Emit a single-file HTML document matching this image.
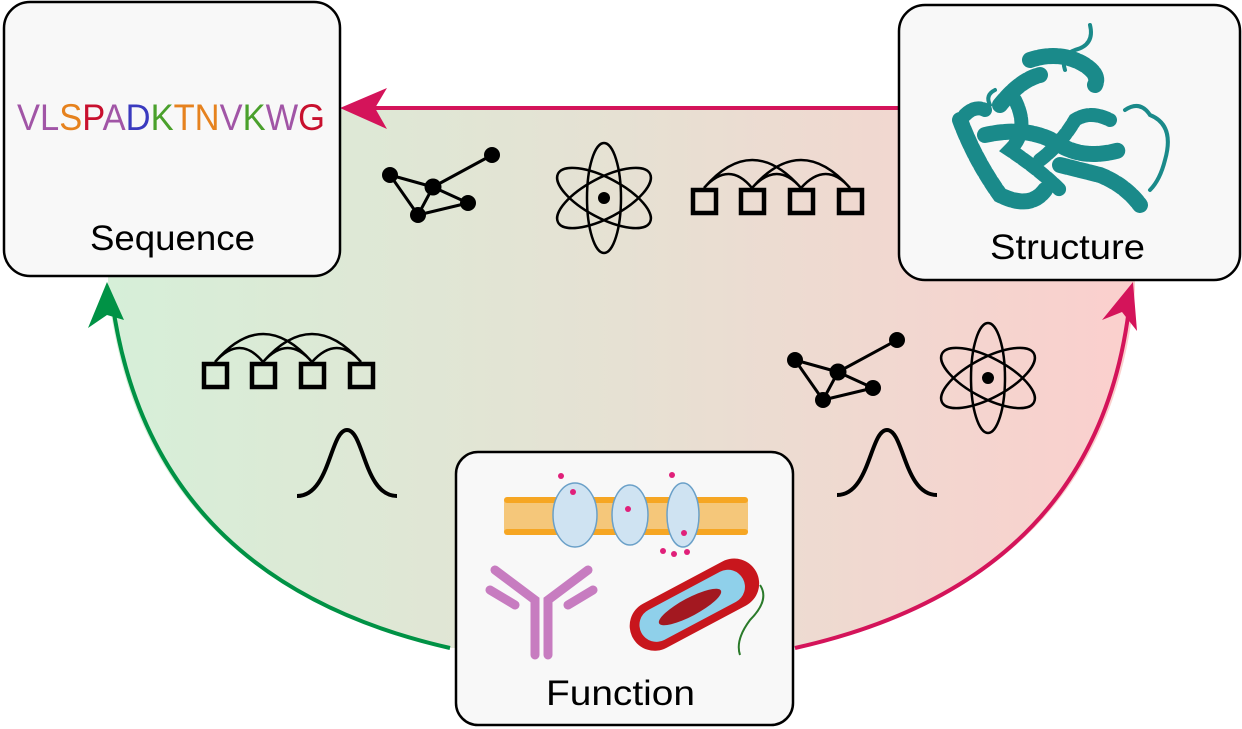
<!DOCTYPE html>
<html><head><meta charset="utf-8"><style>
html,body{margin:0;padding:0;background:#fff;}
svg{display:block;}
text{font-family:"Liberation Sans",sans-serif;}
</style></head><body>
<svg width="1242" height="729" viewBox="0 0 1242 729" xmlns="http://www.w3.org/2000/svg">
<defs>
<linearGradient id="g" x1="0" x2="1" y1="0" y2="0">
<stop offset="0" stop-color="#d6efd8"/>
<stop offset="0.5" stop-color="#e6e1d3"/>
<stop offset="1" stop-color="#fbcfcd"/>
</linearGradient>
<g id="boxes" fill="none" stroke="#000">
<rect x="2" y="2" width="23" height="23" stroke-width="4.5"/>
<rect x="50" y="2" width="23" height="23" stroke-width="4.5"/>
<rect x="99" y="2" width="23" height="23" stroke-width="4.5"/>
<rect x="148" y="2" width="23" height="23" stroke-width="4.5"/>
<path d="M13,0 Q38,-28 61,0 M61,0 Q86,-28 110,0 M110,0 Q135,-28 159,0 M13,0 Q61,-56 110,0 M61,0 Q110,-56 159,0" stroke-width="2.5"/>
</g>
<g id="graph">
<g stroke="#000" stroke-width="3">
<line x1="0" y1="0" x2="43" y2="12"/><line x1="43" y1="12" x2="102" y2="-20"/>
<line x1="43" y1="12" x2="78" y2="28"/><line x1="78" y1="28" x2="28" y2="40"/>
<line x1="28" y1="40" x2="0" y2="0"/><line x1="43" y1="12" x2="28" y2="40"/>
</g>
<g fill="#000"><circle cx="0" cy="0" r="8"/><circle cx="43" cy="12" r="8.5"/><circle cx="102" cy="-20" r="8"/><circle cx="78" cy="28" r="8"/><circle cx="28" cy="40" r="8"/></g>
</g>
<g id="atom" fill="none" stroke="#000" stroke-width="2.5">
<ellipse cx="0" cy="0" rx="17" ry="55"/>
<ellipse cx="0" cy="0" rx="52" ry="20" transform="rotate(28)"/>
<ellipse cx="0" cy="0" rx="52" ry="20" transform="rotate(-28)"/>
<circle cx="0" cy="0" r="6" fill="#000" stroke="none"/>
</g>
</defs>

<path d="M108,108 L1135,108 L1135,290 Q1110,580 795,648 L450,648 Q140,580 108,290 Z" fill="url(#g)"/>

<path d="M900,108 L360,108" stroke="#d4145a" stroke-width="4" fill="none"/>
<path d="M340,108 L387,88 L375,108 L387,129 Z" fill="#d4145a"/>
<path d="M450,648 Q150,580 112,300" stroke="#009245" stroke-width="4" fill="none"/>
<path d="M107,282 L88,328 L107,315 L124,320 Z" fill="#009245"/>
<path d="M795,648 Q1100,580 1130,300" stroke="#d4145a" stroke-width="4" fill="none"/>
<path d="M1133,282 L1102,320 L1122,312 L1137,331 Z" fill="#d4145a"/>

<use href="#graph" x="390" y="175"/>
<use href="#graph" x="795" y="360"/>
<use href="#atom" x="604" y="198"/>
<use href="#atom" x="988" y="378"/>
<use href="#boxes" x="691" y="188"/>
<use href="#boxes" x="202" y="362"/>
<path d="M297,496 C330,496 330,430 347,430 C364,430 364,496 397,496" fill="none" stroke="#000" stroke-width="4"/>
<path d="M837,495 C870,495 870,430 887,430 C904,430 904,495 937,495" fill="none" stroke="#000" stroke-width="4"/>

<rect x="4" y="2" width="336" height="274" rx="26" fill="#f8f8f8" stroke="#000" stroke-width="2.5"/>
<text x="17" y="130" font-size="37" textLength="308" lengthAdjust="spacingAndGlyphs"><tspan fill="#a155a6">V</tspan><tspan fill="#a155a6">L</tspan><tspan fill="#e6821e">S</tspan><tspan fill="#c8102e">P</tspan><tspan fill="#a155a6">A</tspan><tspan fill="#3a3abf">D</tspan><tspan fill="#4aa02c">K</tspan><tspan fill="#e6821e">T</tspan><tspan fill="#e6821e">N</tspan><tspan fill="#a155a6">V</tspan><tspan fill="#4aa02c">K</tspan><tspan fill="#a155a6">W</tspan><tspan fill="#c8102e">G</tspan></text>
<text x="90" y="250" font-size="35" textLength="165" lengthAdjust="spacingAndGlyphs" fill="#000">Sequence</text>

<rect x="899" y="5" width="341" height="275" rx="26" fill="#f8f8f8" stroke="#000" stroke-width="2.5"/>
<g fill="none" stroke="#1a8a8a" stroke-linecap="round" stroke-dasharray="7 3">
<path d="M960,120 Q975,160 1000,195 Q1030,210 1045,190" stroke-width="16"/>
<path d="M985,135 Q1030,125 1060,145 Q1085,160 1120,150" stroke-width="16"/>
<path d="M1030,60 Q1060,50 1085,65 Q1100,75 1095,85" stroke-width="16"/>
<path d="M1000,105 Q1020,80 1040,75" stroke-width="16"/>
<path d="M1015,100 Q1030,130 1010,150 Q1040,170 1060,190" stroke-width="14"/>
<path d="M1060,165 Q1080,170 1100,175 Q1125,185 1140,205" stroke-width="16"/>
<path d="M1040,160 Q1060,145 1075,120 Q1090,110 1110,120" stroke-width="14"/>
<path d="M965,115 Q975,105 985,110" stroke-width="14"/>
</g>
<g fill="none" stroke="#1a8a8a" stroke-linecap="round">
<path d="M1090,25 Q1095,45 1075,50 Q1060,55 1065,70" stroke-width="4"/>
<path d="M1125,110 Q1140,100 1150,115 Q1175,125 1165,160 Q1160,180 1150,190" stroke-width="4"/>
<path d="M990,105 Q985,95 995,90" stroke-width="4"/>
</g>
<text x="990" y="259" font-size="35" textLength="155" lengthAdjust="spacingAndGlyphs" fill="#000">Structure</text>

<rect x="456" y="452" width="337" height="273" rx="22" fill="#f8f8f8" stroke="#000" stroke-width="2.5"/>
<rect x="504" y="500" width="244" height="32" fill="#f5c77a"/>
<g fill="#f6a623"><rect x="504" y="497" width="244" height="6" rx="3"/><rect x="504" y="529" width="244" height="6" rx="3"/></g>
<g fill="#cfe3f2" stroke="#6aa0c8" stroke-width="1.5">
<ellipse cx="575" cy="515" rx="22" ry="32"/><ellipse cx="630" cy="515" rx="18" ry="30"/><ellipse cx="683" cy="515" rx="16" ry="32"/>
</g>
<g fill="#e0207a"><circle cx="561" cy="476" r="3"/><circle cx="573" cy="492" r="3"/><circle cx="628" cy="509" r="3"/><circle cx="672" cy="475" r="3"/><circle cx="684" cy="533" r="3"/><circle cx="663" cy="551" r="3"/><circle cx="674" cy="554" r="3"/><circle cx="687" cy="552" r="3"/></g>
<g stroke="#c77cc0" stroke-linecap="round" fill="none">
<path d="M535,655 L535,600 L495,570 M548,655 L548,600 L588,570" stroke-width="9"/>
<path d="M490,590 L515,605 M593,590 L568,605" stroke-width="9"/>
</g>
<g transform="rotate(-28 690 607)">
<rect x="625" y="582" width="140" height="50" rx="25" fill="#c8161d"/>
<rect x="635" y="590" width="115" height="34" rx="17" fill="#8fd0ea"/>
<ellipse cx="690" cy="607" rx="35" ry="9" fill="#a31820"/>
</g>
<path d="M760,585 Q770,600 750,620 Q735,640 740,655" fill="none" stroke="#2a7a2a" stroke-width="2"/>
<text x="546" y="705" font-size="35" textLength="149" lengthAdjust="spacingAndGlyphs" fill="#000">Function</text>
</svg>
</body></html>
